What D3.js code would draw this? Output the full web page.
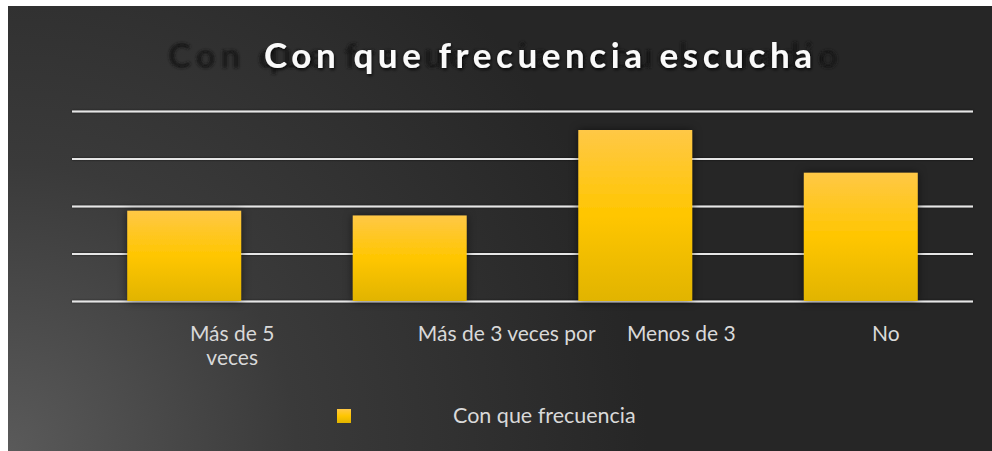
<!DOCTYPE html>
<html><head><meta charset="utf-8">
<script src="https://cdn.jsdelivr.net/npm/d3@7"></script>
<style>html,body{margin:0;padding:0;background:#fff;overflow:hidden}</style>
</head><body>
<svg id="c" width="992" height="451"></svg>
<script>
const categories = ["Más de 5 veces", "Más de 3 veces por", "Menos de 3", "No"];
const values = [19, 18, 36, 27];
const yTicks = [0, 10, 20, 30, 40];
const title = "Con que frecuencia escucha";
const ghostTitle = "Con que frecuencia escucha radio";
const seriesName = "Con que frecuencia";

// layout (not data)
const labelLines = [["Más de 5", "veces"], ["Más de 3 veces por"], ["Menos de 3"], ["No"]];
const labelDx = [48, 97, 46, 25];

const svg = d3.select("#c");
const defs = svg.append("defs");

const bg = defs.append("radialGradient").attr("id", "bg")
  .attr("gradientUnits", "userSpaceOnUse").attr("cx", 8).attr("cy", 451).attr("r", 640);
bg.append("stop").attr("offset", "0%").attr("stop-color", "#5a5a5a");
bg.append("stop").attr("offset", "45%").attr("stop-color", "#3a3a3a");
bg.append("stop").attr("offset", "100%").attr("stop-color", "#262626");

const bar = defs.append("linearGradient").attr("id", "bar").attr("x1", 0).attr("y1", 0).attr("x2", 0).attr("y2", 1);
bar.append("stop").attr("offset", "0%").attr("stop-color", "#ffc846");
bar.append("stop").attr("offset", "50%").attr("stop-color", "#ffc600");
bar.append("stop").attr("offset", "100%").attr("stop-color", "#e1b400");

const sh = defs.append("filter").attr("id", "sh").attr("x", "-20%").attr("y", "-20%").attr("width", "140%").attr("height", "140%");
sh.append("feDropShadow").attr("dx", 0).attr("dy", 0).attr("stdDeviation", 4).attr("flood-color", "#000").attr("flood-opacity", 0.55);

const gl = defs.append("filter").attr("id", "gl").attr("x", "-5%").attr("y", "-200%").attr("width", "110%").attr("height", "500%");
gl.append("feDropShadow").attr("dx", 0).attr("dy", 0).attr("stdDeviation", 1).attr("flood-color", "#000").attr("flood-opacity", 0.6);

const bl = defs.append("filter").attr("id", "bl").attr("x", "-10%").attr("y", "-50%").attr("width", "120%").attr("height", "200%");
bl.append("feGaussianBlur").attr("stdDeviation", 1.6);

const tsh = defs.append("filter").attr("id", "tsh").attr("x", "-10%").attr("y", "-50%").attr("width", "120%").attr("height", "200%");
tsh.append("feDropShadow").attr("dx", 1).attr("dy", 2).attr("stdDeviation", 1.5).attr("flood-color", "#000").attr("flood-opacity", 0.7);

svg.append("rect").attr("x", 8).attr("y", 6).attr("width", 984).attr("height", 445).attr("fill", "url(#bg)");

const x = d3.scaleBand().domain(categories).range([72, 973]).paddingInner(0.495).paddingOuter(0.245);
const y = d3.scaleLinear().domain([0, 40]).range([301, 111]);

// gridlines
const grid = svg.append("g").attr("filter", "url(#gl)");
grid.call(d3.axisLeft(y).tickValues(yTicks).tickSize(-(973 - 72)).tickFormat(""))
  .attr("transform", "translate(72,0)");
grid.select(".domain").remove();
grid.selectAll(".tick line").attr("stroke", "#e6e6e6").attr("stroke-width", 2.2);

// title
svg.append("text").attr("x", 168).attr("y", 68).attr("textLength", 670).attr("lengthAdjust", "spacing")
  .attr("font-family", "Lato, 'Open Sans', sans-serif").attr("font-weight", "bold").attr("font-size", 35)
  .attr("fill", "#151515").attr("filter", "url(#bl)").text(ghostTitle);
svg.append("text").attr("x", 264).attr("y", 68).attr("textLength", 548).attr("lengthAdjust", "spacing")
  .attr("font-family", "Lato, 'Open Sans', sans-serif").attr("font-weight", "bold").attr("font-size", 35)
  .attr("fill", "#fafafa").attr("filter", "url(#tsh)").text(title);

// bars
svg.append("g").selectAll("rect").data(values).join("rect")
  .attr("x", (d, i) => x(categories[i]))
  .attr("y", d => y(d))
  .attr("width", x.bandwidth())
  .attr("height", d => y(0) - y(d))
  .attr("fill", "url(#bar)")
  .attr("filter", "url(#sh)");

// category labels
const lab = svg.append("g").attr("font-family", "Lato, 'Open Sans', sans-serif").attr("font-size", 21).attr("fill", "#d9d9d9").attr("text-anchor", "middle");
categories.forEach((c, i) => {
  const cx = x(c) + x.bandwidth() / 2 + labelDx[i];
  const t = lab.append("text").attr("x", cx).attr("y", 341);
  labelLines[i].forEach((ln, j) => t.append("tspan").attr("x", cx).attr("dy", j ? 24 : 0).text(ln));
});

// legend
svg.append("rect").attr("x", 337).attr("y", 409).attr("width", 14).attr("height", 14).attr("fill", "url(#bar)");
svg.append("text").attr("x", 453).attr("y", 423).attr("font-family", "Lato, 'Open Sans', sans-serif").attr("font-size", 21.5)
  .attr("fill", "#d9d9d9").text(seriesName);
</script>
</body></html>
